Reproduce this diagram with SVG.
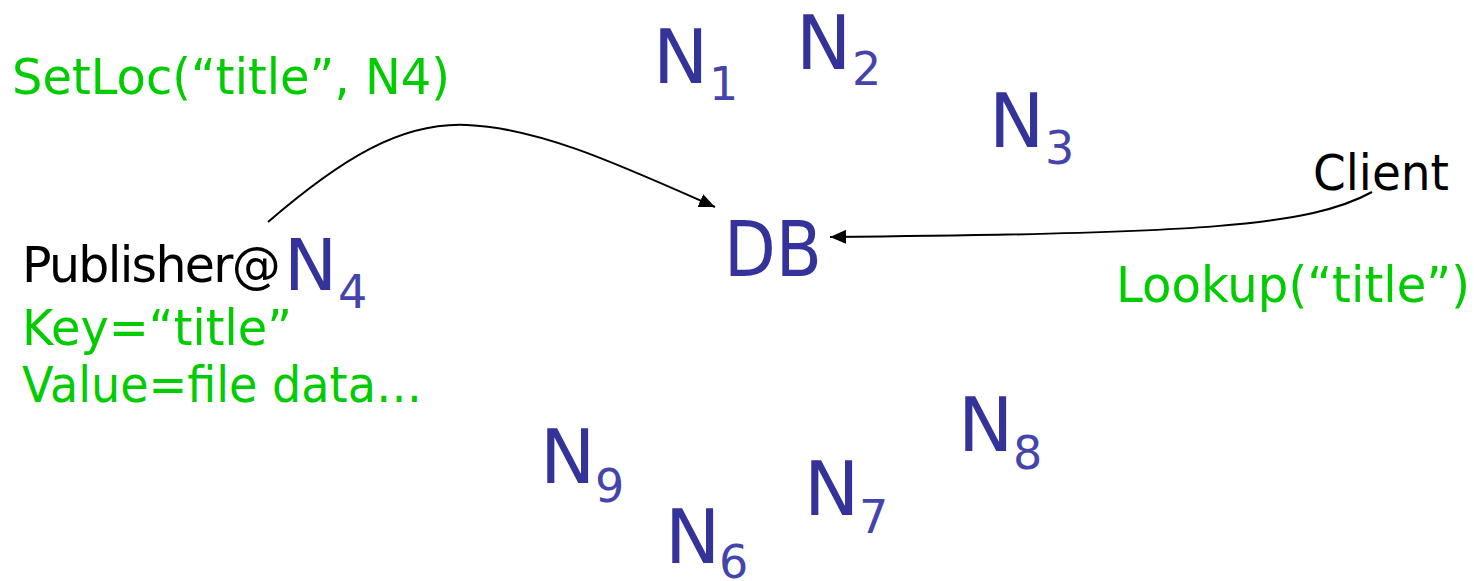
<svg xmlns="http://www.w3.org/2000/svg" width="1474" height="581" viewBox="0 0 1474 581">
<style>
text{font-family:"DejaVu Sans","Verdana",sans-serif}
.lbl{font-size:49px}
.blk{fill:#000}
.grn{fill:#00cc00}
.big{font-size:74px;fill:#333399}
.sub{font-size:46px;fill:#4444aa}
.edge{fill:none;stroke:#000;stroke-width:2}
</style>
<defs>
<marker id="arr" markerUnits="userSpaceOnUse" markerWidth="18" markerHeight="14" refX="16" refY="7" orient="auto">
<path d="M0,0 L16,7 L0,14 Z" fill="#000"/>
</marker>
</defs>
<g id="connectors">
<path class="edge" d="M268,222 C340,160 400,122 467,125 C540,128 620,165 715,207" marker-end="url(#arr)"/>
<path class="edge" d="M1372,192 C1310,226 1200,234 830,237" marker-end="url(#arr)"/>
</g>
<g id="setloc"><text class="lbl grn" x="12" y="94" textLength="438" lengthAdjust="spacingAndGlyphs">SetLoc(“title”, N4)</text></g>
<g id="publisher">
<text class="lbl blk" x="22" y="282"><tspan style="letter-spacing:-1.7px">Publisher@</tspan><tspan class="big" x="284" y="290" style="font-size:71px">N</tspan><tspan class="sub" x="338" y="308">4</tspan></text>
<text class="lbl grn" x="22" y="345" textLength="270" lengthAdjust="spacingAndGlyphs">Key=“title”</text>
<text class="lbl grn" x="22" y="402" textLength="400" lengthAdjust="spacingAndGlyphs">Value=file data…</text>
</g>
<g id="db"><text class="big" x="724" y="276" textLength="98" lengthAdjust="spacingAndGlyphs" style="font-size:76px">DB</text></g>
<g id="client">
<text class="lbl blk" x="1313" y="190" textLength="136" lengthAdjust="spacingAndGlyphs">Client</text>
<text class="lbl grn" x="1116" y="302" textLength="354" lengthAdjust="spacingAndGlyphs">Lookup(“title”)</text>
</g>
<g id="n1"><text class="big" x="653" y="83">N</text><text class="sub" x="709" y="100">1</text></g>
<g id="n2"><text class="big" x="796" y="69">N</text><text class="sub" x="852" y="85">2</text></g>
<g id="n3"><text class="big" x="989" y="147">N</text><text class="sub" x="1045" y="164">3</text></g>
<g id="n8"><text class="big" x="958" y="451">N</text><text class="sub" x="1013" y="469">8</text></g>
<g id="n7"><text class="big" x="804" y="515">N</text><text class="sub" x="859" y="533">7</text></g>
<g id="n9"><text class="big" x="540" y="483">N</text><text class="sub" x="595" y="502">9</text></g>
<g id="n6"><text class="big" x="665" y="563">N</text><text class="sub" x="719" y="578">6</text></g>
</svg>
